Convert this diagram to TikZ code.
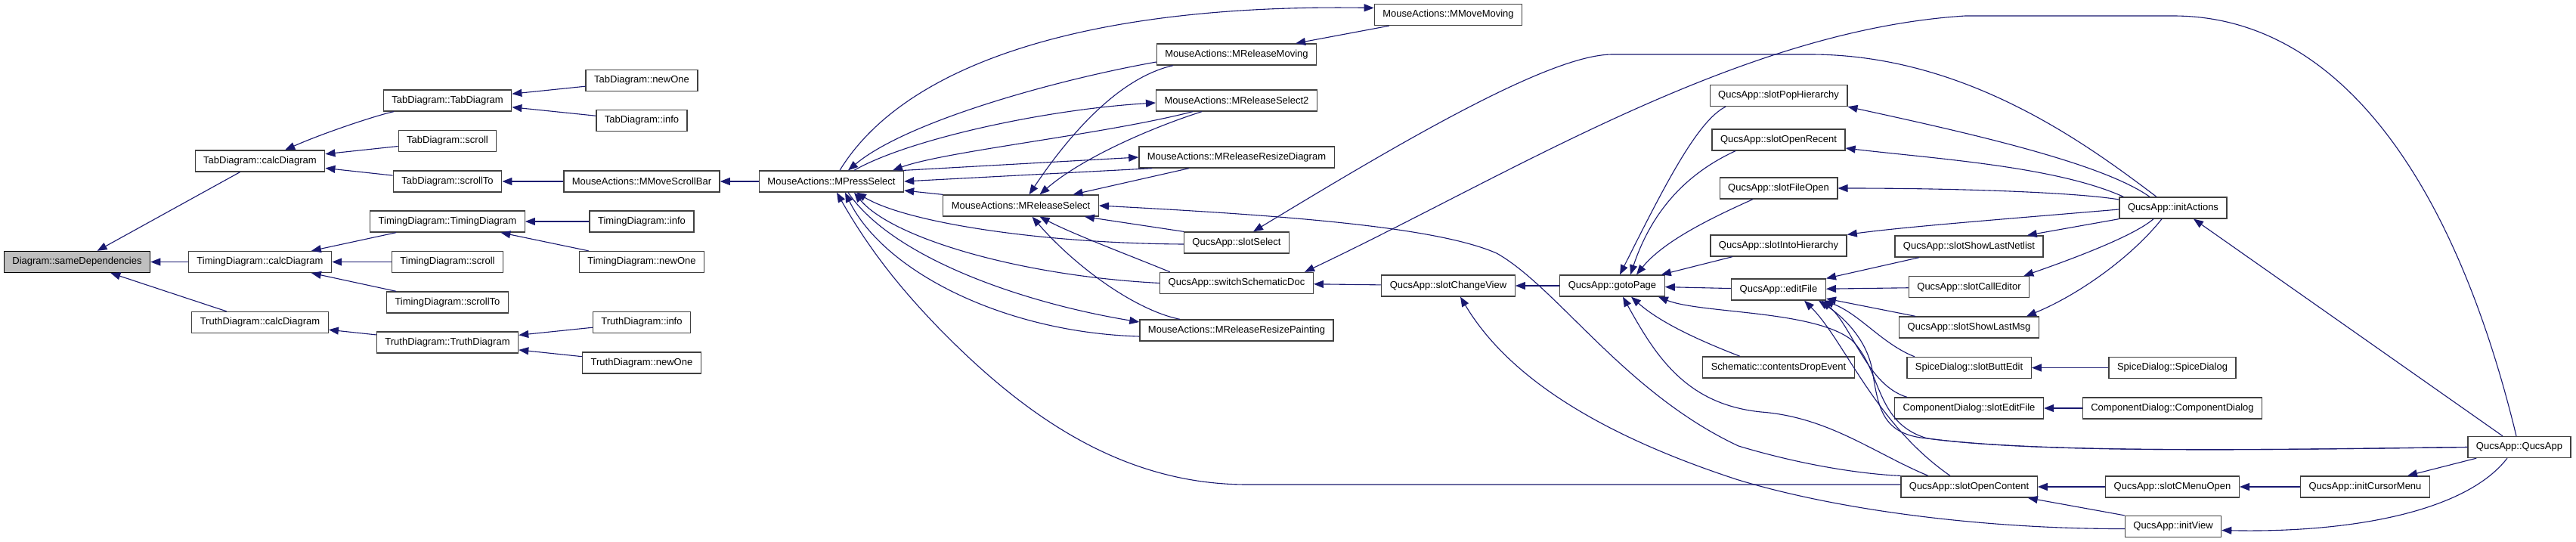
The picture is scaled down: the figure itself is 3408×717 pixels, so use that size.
\documentclass[tikz,border=0pt]{standalone}
\usepackage{fontspec}
\setmainfont{Liberation Sans}
\usetikzlibrary{arrows.meta}
\definecolor{ec}{HTML}{191970}
\definecolor{bc}{HTML}{404040}
\definecolor{rootfill}{HTML}{BFBFBF}
\tikzset{
  fn/.style={draw=bc, line width=1.3pt, fill=white, inner xsep=11pt, inner ysep=0pt,
    minimum height=28pt, font=\fontsize{13}{15}\selectfont, text=black},
  rootnode/.style={fn, fill=rootfill, draw=black},
  e/.style={draw=ec, line width=1.1pt, {Triangle[length=13pt,width=10pt]}-}
}
\begin{document}
\begin{tikzpicture}[x=1pt,y=-1pt]
\useasboundingbox[fill=white] (0,0) rectangle (3408,717);
% nodes
\node[rootnode] (root) at (102,346.5) {Diagram::sameDependencies};
\node[fn] (tabcalc) at (344,213) {TabDiagram::calcDiagram};
\node[fn] (timingcalc) at (344,346.5) {TimingDiagram::calcDiagram};
\node[fn] (truthcalc) at (344,426.5) {TruthDiagram::calcDiagram};
\node[fn] (tabtab) at (592,133) {TabDiagram::TabDiagram};
\node[fn] (tabscroll) at (592,186.5) {TabDiagram::scroll};
\node[fn] (tabscrollto) at (592,240) {TabDiagram::scrollTo};
\node[fn] (timingtiming) at (592,293) {TimingDiagram::TimingDiagram};
\node[fn] (timingscroll) at (592,346.5) {TimingDiagram::scroll};
\node[fn] (timingscrollto) at (592,400) {TimingDiagram::scrollTo};
\node[fn] (truthtruth) at (592,453) {TruthDiagram::TruthDiagram};
\node[fn] (tabnewone) at (849,106.5) {TabDiagram::newOne};
\node[fn] (tabinfo) at (849,159.5) {TabDiagram::info};
\node[fn] (mmovescrollbar) at (849,240) {MouseActions::MMoveScrollBar};
\node[fn] (timinginfo) at (849,293) {TimingDiagram::info};
\node[fn] (timingnewone) at (849,346.5) {TimingDiagram::newOne};
\node[fn] (truthinfo) at (849,426.5) {TruthDiagram::info};
\node[fn] (truthnewone) at (849,480) {TruthDiagram::newOne};
\node[fn] (mpress) at (1100,240) {MouseActions::MPressSelect};
\node[fn] (mreleaseselect) at (1350.5,272) {MouseActions::MReleaseSelect};
\node[fn] (mmovemoving) at (1916,19.5) {MouseActions::MMoveMoving};
\node[fn] (mreleasemoving) at (1636,72) {MouseActions::MReleaseMoving};
\node[fn] (mrs2) at (1636,133) {MouseActions::MReleaseSelect2};
\node[fn] (mrrd) at (1636,208) {MouseActions::MReleaseResizeDiagram};
\node[fn] (slotselect) at (1636,321) {QucsApp::slotSelect};
\node[fn] (ssd) at (1636,374.5) {QucsApp::switchSchematicDoc};
\node[fn] (mrrp) at (1636,437) {MouseActions::MReleaseResizePainting};
\node[fn] (slotchangeview) at (1916,378) {QucsApp::slotChangeView};
\node[fn] (gotopage) at (2133,378) {QucsApp::gotoPage};
\node[fn] (spop) at (2353,126.5) {QucsApp::slotPopHierarchy};
\node[fn] (sor) at (2353,185) {QucsApp::slotOpenRecent};
\node[fn] (sfo) at (2353,249) {QucsApp::slotFileOpen};
\node[fn] (sih) at (2353,325) {QucsApp::slotIntoHierarchy};
\node[fn] (editfile) at (2353,383) {QucsApp::editFile};
\node[fn] (cde) at (2353,486) {Schematic::contentsDropEvent};
\node[fn] (slotopencontent) at (2605,644) {QucsApp::slotOpenContent};
\node[fn] (ssln) at (2605,326) {QucsApp::slotShowLastNetlist};
\node[fn] (sce) at (2605,379.7) {QucsApp::slotCallEditor};
\node[fn] (sslm) at (2605,433) {QucsApp::slotShowLastMsg};
\node[fn] (sbe) at (2605,486.5) {SpiceDialog::slotButtEdit};
\node[fn] (csef) at (2605,540) {ComponentDialog::slotEditFile};
\node[fn] (initactions) at (2875,275) {QucsApp::initActions};
\node[fn] (spicedialog) at (2874,486.5) {SpiceDialog::SpiceDialog};
\node[fn] (compdialog) at (2874,540) {ComponentDialog::ComponentDialog};
\node[fn] (scmo) at (2874,644) {QucsApp::slotCMenuOpen};
\node[fn] (initview) at (2875,696.5) {QucsApp::initView};
\node[fn] (initcursormenu) at (3129,644) {QucsApp::initCursorMenu};
\node[fn] (qucsapp) at (3333,591.5) {QucsApp::QucsApp};
% left part
\draw[e] (root) -- (tabcalc);
\draw[e] (root) -- (timingcalc);
\draw[e] (root) -- (truthcalc);
\draw[e] (tabcalc) .. controls (430,175) and (500,152) .. (tabtab);
\draw[e] (tabcalc) -- (tabscroll);
\draw[e] (tabcalc) -- (tabscrollto);
\draw[e] (tabtab) -- (tabnewone);
\draw[e] (tabtab) -- (tabinfo);
\draw[e] (tabscrollto) -- (mmovescrollbar);
\draw[e] (mmovescrollbar) -- (mpress);
\draw[e] (timingcalc) -- (timingtiming);
\draw[e] (timingcalc) -- (timingscroll);
\draw[e] (timingcalc) -- (timingscrollto);
\draw[e] (timingtiming) -- (timinginfo);
\draw[e] (timingtiming) -- (timingnewone);
\draw[e] (truthcalc) -- (truthtruth);
\draw[e] (truthtruth) -- (truthinfo);
\draw[e] (truthtruth) -- (truthnewone);
% middle part
\draw[e] ([yshift=9pt]mmovemoving.west) .. controls (1450,5) and (1200,80) .. ([xshift=11pt]mpress.north);
\draw[e] (mreleasemoving) -- (mmovemoving);
\draw[e] ([xshift=22pt]mpress.north) .. controls (1200,160) and (1400,105) .. ([yshift=-10pt]mreleasemoving.west);
\draw[e] ([xshift=11pt]mreleaseselect.north) .. controls (1400,200) and (1470,105) .. ([xshift=-84pt]mreleasemoving.south);
\draw[e] ([yshift=-3pt]mrs2.west) .. controls (1380,145) and (1200,185) .. ([xshift=30pt]mpress.north);
\draw[e] ([xshift=81pt]mpress.north) .. controls (1250,200) and (1460,178) .. ([xshift=-58pt]mrs2.south);
\draw[e] (mrrd.west) -- (mpress.north east);
\draw[e] (mpress.east) -- ([xshift=18pt]mrrd.south west);
\draw[e] ([xshift=25pt]mreleaseselect.north) .. controls (1430,210) and (1520,170) .. ([xshift=-46pt]mrs2.south);
\draw[e] ([xshift=69pt]mreleaseselect.north) -- ([xshift=-63pt]mrrd.south);
\draw[e] ([yshift=-12pt]mpress.east) -- (mreleaseselect.north west);
\draw[e] ([xshift=33pt]mpress.south) .. controls (1200,295) and (1380,322) .. ([yshift=-2pt]slotselect.west);
\draw[e] ([xshift=30pt]mpress.south) .. controls (1180,315) and (1350,365) .. (ssd.west);
\draw[e] ([yshift=11pt]mrrp.west) .. controls (1350,400) and (1180,340) .. ([xshift=22pt]mpress.south);
\draw[e] ([xshift=18pt]mpress.south) .. controls (1170,360) and (1330,440) .. ([yshift=-8pt]mrrp.west);
\draw[e] ([xshift=7pt]mpress.south) .. controls (1150,330) and (1190,380) .. (1240,432) .. controls (1350,545) and (1480,641) .. (1650,641) -- ([yshift=3pt]slotopencontent.west);
\draw[e] ([xshift=-19pt]mreleaseselect.south east) -- (slotselect.north west);
\draw[e] ([xshift=25pt]mreleaseselect.south) .. controls (1420,310) and (1500,340) .. ([xshift=-88pt]ssd.north);
\draw[e] ([xshift=15pt]mreleaseselect.south) .. controls (1420,350) and (1500,410) .. ([xshift=-75pt]mrrp.north);
\draw[e] (mreleaseselect.east) .. controls (1700,285) and (1900,300) .. (1980,335) .. controls (2060,380) and (2150,520) .. (2300,590) .. controls (2400,620) and (2480,628) .. (slotopencontent.north west);
% right part
\draw[e] (slotchangeview) -- (gotopage);
\draw[e] (ssd) -- (slotchangeview);
\draw[e] ([xshift=16pt]slotchangeview.south) .. controls (1990,490) and (2100,570) .. (2300,635) .. controls (2450,680) and (2650,700) .. ([yshift=-3pt]initview.west);
\draw[e] ([xshift=22pt]slotselect.north) .. controls (1850,190) and (2050,72) .. (2133,72) -- (2395,72) .. controls (2600,72) and (2760,190) .. ([xshift=-22pt]initactions.north);
\draw[e] ([xshift=90pt]ssd.north) .. controls (2000,230) and (2300,40) .. (2600,21) -- (2875,21) .. controls (3100,21) and (3250,250) .. ([xshift=-4pt]qucsapp.north);
\draw[e] (spop.south east) .. controls (2600,175) and (2780,215) .. ([xshift=-31pt]initactions.north);
\draw[e] ([yshift=-11pt]sor.east) .. controls (2560,210) and (2720,220) .. ([xshift=6pt]initactions.north west);
\draw[e] (sfo.east) .. controls (2600,249) and (2750,255) .. ([yshift=11pt]initactions.west);
\draw[e] (sih.north east) .. controls (2520,300) and (2650,290) .. ([yshift=-2pt]initactions.west);
\draw[e] ([xshift=-22pt]ssln.north east) -- (initactions.south west);
\draw[e] ([xshift=-8pt]sce.north east) .. controls (2720,350) and (2820,315) .. ([xshift=-26pt]initactions.south);
\draw[e] ([xshift=-17pt]sslm.north east) .. controls (2750,390) and (2820,340) .. ([xshift=-15pt]initactions.south);
\draw[e] ([xshift=27pt]initactions.south) -- ([xshift=-22pt]qucsapp.north);
\draw[e] ([xshift=10pt]gotopage.north) .. controls (2200,250) and (2245,160) .. ([xshift=-70pt]spop.south);
\draw[e] ([xshift=24pt]gotopage.north) .. controls (2185,280) and (2230,230) .. ([xshift=-57pt]sor.south);
\draw[e] ([xshift=32pt]gotopage.north) .. controls (2200,320) and (2260,290) .. ([xshift=-34pt]sfo.south);
\draw[e] ([xshift=-5pt]gotopage.north east) -- ([xshift=-61pt]sih.south);
\draw[e] (gotopage) -- (editfile);
\draw[e] ([xshift=25pt]gotopage.south) .. controls (2200,430) and (2260,455) .. ([xshift=-51pt]cde.north);
\draw[e] ([xshift=14pt]gotopage.south) .. controls (2190,470) and (2230,535) .. (2330,545) .. controls (2420,552) and (2480,600) .. ([xshift=-54pt]slotopencontent.north);
\draw[e] ([xshift=-9pt]gotopage.south east) .. controls (2250,415) and (2400,410) .. (2450,450) .. controls (2490,490) and (2480,560) .. (2550,580) .. controls (2700,600) and (3000,595) .. (qucsapp.west);
\draw[e] ([xshift=-10pt]editfile.south east) .. controls (2440,420) and (2470,450) .. (2477,490) .. controls (2485,540) and (2490,575) .. (2550,580) .. controls (2700,600) and (3000,595) .. (qucsapp.west);
\draw[e] ([xshift=34pt]editfile.south) .. controls (2440,450) and (2480,560) .. ([xshift=-25pt]slotopencontent.north);
\draw[e] (editfile.north east) -- ([xshift=-66pt]ssln.south);
\draw[e] (editfile) -- (sce);
\draw[e] ([yshift=-12pt]editfile.east) -- ([xshift=-71pt]sslm.north);
\draw[e] ([xshift=-3pt]editfile.south east) .. controls (2460,415) and (2490,455) .. ([xshift=-72pt]sbe.north);
\draw[e] ([xshift=-6pt]editfile.south east) .. controls (2450,430) and (2470,510) .. ([xshift=-82pt]csef.north);
\draw[e] (sbe) -- (spicedialog);
\draw[e] (csef) -- (compdialog);
\draw[e] (slotopencontent) -- (scmo);
\draw[e] ([xshift=-13pt]slotopencontent.south east) -- (initview.north west);
\draw[e] (scmo) -- (initcursormenu);
\draw[e] ([xshift=56pt]initcursormenu.north) -- ([xshift=12pt]qucsapp.south west);
\draw[e] ([yshift=-5pt]initview.east) .. controls (3100,705) and (3260,680) .. ([xshift=-16pt]qucsapp.south);
\end{tikzpicture}
\end{document}
